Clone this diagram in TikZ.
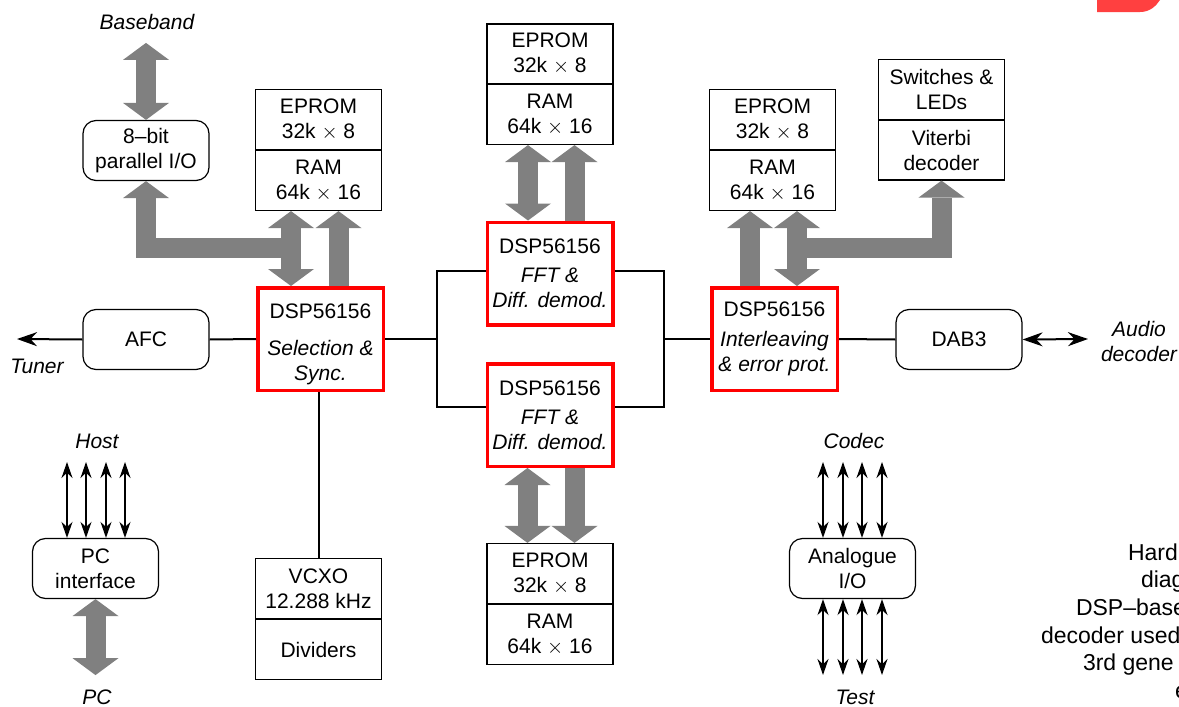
\documentclass[tikz,border=0pt]{standalone}
\usepackage{fontspec}
\setmainfont{Liberation Sans}
\usetikzlibrary{arrows.meta,calc}
\definecolor{busgray}{RGB}{128,128,128}
\definecolor{logored}{RGB}{255,64,64}
\begin{document}
\begin{tikzpicture}[x=1pt,y=-1pt,
  every node/.style={font=\fontsize{21}{25}\selectfont, inner sep=0pt, outer sep=0pt, align=center},
  box/.style={draw, line width=1.2pt, fill=white, minimum width=126pt, minimum height=60pt, outer sep=0.6pt},
  rbox/.style={box, rounded corners=13pt},
  dspbox/.style={draw=red, line width=3.5pt, fill=white, minimum width=125.5pt, minimum height=102.5pt, outer sep=1.75pt},
  wire/.style={line width=2pt},
  thinwire/.style={line width=1.9pt},
  lab/.style={font=\fontsize{21}{25}\selectfont\itshape},
  capt/.style={font=\fontsize{23}{27.7}\selectfont, anchor=base west},
  bt/.tip={Triangle[width=46pt,length=17pt,line width=0pt]},
  st/.tip={Stealth[length=20pt,width=14pt]},
  hs/.tip={Stealth[length=16pt,width=11pt]},
  bus/.style={draw=busgray, line width=20pt, line join=miter},
]
\useasboundingbox (0,0) rectangle (1179,707);
\clip (0,0) rectangle (1179,707);
\fill[white] (0,0) rectangle (1179,707);

% logo fragment
\fill[logored] (1097,0) -- (1097,12) -- (1140,12) .. controls (1150,12) and (1156,6) .. (1160,0) -- cycle;

% nodes
\node[rbox] (pio) at (146,150.5) {8--bit\\parallel I/O};
\node[box] (memLa) at (318.5,119.5) {EPROM\\32k $\times$ 8};
\node[box] (memLb) at (318.5,180.5) {RAM\\64k $\times$ 16};
\node[box] (memTa) at (550,54) {EPROM\\32k $\times$ 8};
\node[box] (memTb) at (550,114.5) {RAM\\64k $\times$ 16};
\node[box] (memRa) at (772.5,119.5) {EPROM\\32k $\times$ 8};
\node[box] (memRb) at (772.5,180.5) {RAM\\64k $\times$ 16};
\node[box] (swl) at (941.5,89.5) {Switches \&\\LEDs};
\node[box] (vit) at (941.5,150) {Viterbi\\decoder};

\node[dspbox] (dsp1) at (320.5,339) {\rule{0pt}{25pt}DSP56156\\[12pt]\textit{Selection \&}\\\textit{Sync.}};
\node[dspbox] (fft1) at (550,273.5) {DSP56156\\[4pt]\textit{FFT \&}\\\textit{Diff. demod.}};
\node[dspbox] (fft2) at (550,415) {DSP56156\\[4pt]\textit{FFT \&}\\\textit{Diff. demod.}};
\node[dspbox] (dsp4) at (774.5,339) {DSP56156\\[5pt]\textit{Interleaving}\\\textit{\& error prot.}};

\node[rbox] (afc) at (146,339.5) {AFC};
\node[rbox] (dab) at (959,339.5) {DAB3};
\node[rbox] (pci) at (95.5,568.5) {PC\\interface};
\node[box] (vcxo) at (318.5,588.5) {VCXO\\12.288 kHz};
\node[box] (div) at (318.5,649.5) {Dividers};
\node[box] (memBa) at (550,573.5) {EPROM\\32k $\times$ 8};
\node[box] (memBb) at (550,634.5) {RAM\\64k $\times$ 16};
\node[rbox] (aio) at (852.5,568.5) {Analogue\\I/O};

% labels
\node[lab] (baseband) at (147,22) {Baseband};
\node[lab] (tuner) at (37,366) {Tuner};
\node[lab] (audio) at (1139,341) {Audio\\decoder};
\node[lab] (host) at (97,441) {Host};
\node[lab] (pc) at (97,697) {PC};
\node[lab] (codec) at (854,441) {Codec};
\node[lab] (test) at (855,697) {Test};

% caption fragment
\node[capt] (c1) at (1128,560) {Hard};
\node[capt] (c2) at (1141,587.7) {diag};
\node[capt] (c3) at (1076,615.4) {DSP--base};
\node[capt] (c4) at (1041,643.1) {decoder used};
\node[capt] (c5) at (1083,670.8) {3rd gene};
\node[capt] (c6) at (1175,698.5) {e};

% black wires
\coordinate (jl) at (437,339);
\coordinate (jr) at (664,339);
\coordinate (tunerend) at (17,339);
\coordinate (audioend) at (1088,339);
\draw[wire] (dsp1.east) -- (jl);
\draw[wire] ([yshift=2.5pt]fft1.west) -| (jl) |- ([yshift=8pt]fft2.west);
\draw[wire] ([yshift=2.5pt]fft1.east) -| (jr) |- ([yshift=8pt]fft2.east);
\draw[wire] (jr) -- (dsp4.west);
\draw[wire] (dsp1.west) -- (afc.east);
\draw[wire,-st] (afc.west) -- (tunerend);
\draw[wire] (dsp4.east) -- (dab.west);
\draw[wire,st-st] (dab.east) -- (audioend);
\draw[wire] (vcxo.north) -- (vcxo.north |- dsp1.south);

\foreach \x in {67,86,106,125}
  \draw[thinwire,hs-hs] (\x,462) -- (pci.north -| \x,0);
\foreach \x in {823,843,862,882} {
  \draw[thinwire,hs-hs] (\x,462) -- (aio.north -| \x,0);
  \draw[thinwire,hs-hs] (aio.south -| \x,0) -- (\x,675);
}

% grey buses
\coordinate (jL) at (291,248);
\coordinate (jR) at (797,248);
\draw[bus,bt-bt] (pio.north) -- ++(0,-77);
\draw[bus,-bt] (jL) -| (pio.south);
\draw[bus,bt-bt] ([xshift=-27.5pt]memLb.south) -- ([xshift=-29.5pt]dsp1.north);
\draw[bus,-bt] ([xshift=18pt]dsp1.north) -- ([xshift=20pt]memLb.south);
\draw[bus,bt-bt] ([xshift=-22pt]memTb.south) -- ([xshift=-22pt]fft1.north);
\draw[bus,-bt] ([xshift=24.5pt]fft1.north) -- ([xshift=24.5pt]memTb.south);
\draw[bus,bt-bt] ([xshift=-22.5pt]fft2.south) -- ([xshift=-22.5pt]memBa.north);
\draw[bus,-bt] ([xshift=24.5pt]fft2.south) -- ([xshift=24.5pt]memBa.north);
\draw[bus,-bt] ([xshift=-24.5pt]dsp4.north) -- ([xshift=-22.5pt]memRb.south);
\draw[bus,bt-bt] ([xshift=24.5pt]memRb.south) -- ([xshift=22.5pt]dsp4.north);
\draw[bus,-bt] (jR) -| (vit.south);
\draw[bus,bt-bt] (pci.south) -- ++(0,76);
\end{tikzpicture}
\end{document}
